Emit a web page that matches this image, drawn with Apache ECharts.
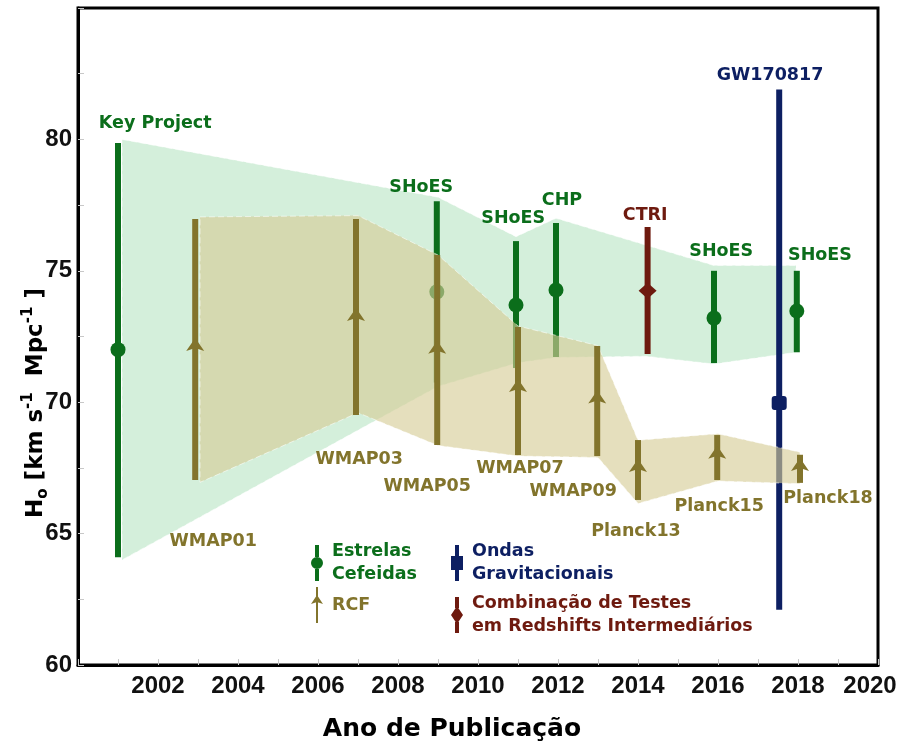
<!DOCTYPE html>
<html>
<head>
<meta charset="utf-8">
<script src="https://cdn.jsdelivr.net/npm/echarts@6/dist/echarts.min.js"></script>
<style>
  html, body { margin: 0; padding: 0; background: #fff; }
  #chart { width: 900px; height: 750px; }
</style>
</head>
<body>
<div id="chart"></div>
<script>
// Estrelas Cefeidas (ano, H0, limite inferior, limite superior)
var cefYears = [2001.0, 2008.97, 2010.95, 2011.95, 2015.9, 2017.97];
var cefH0 = [72.0, 74.2, 73.7, 74.27, 73.2, 73.47];
var cefLow = [64.1, 70.75, 71.3, 71.72, 71.49, 71.9];
var cefHigh = [79.86, 77.65, 76.13, 76.82, 75.0, 75.0];

// RCF
var cmbYears = [2002.93, 2006.95, 2008.98, 2011.0, 2012.98, 2014.0, 2015.98, 2018.05];
var cmbH0 = [72.1, 73.24, 72.0, 70.54, 70.1, 67.5, 68.0, 67.53];
var cmbLow = [67.04, 69.51, 68.37, 67.99, 67.95, 66.28, 67.04, 66.93];
var cmbHigh = [76.97, 76.97, 75.6, 72.86, 72.14, 68.56, 68.75, 68.0];

// Ondas gravitacionais / CTRI
var gwPoint = [2017.53, 69.97, 62.1, 81.9];
var ctriPoint = [2014.24, 74.24, 71.83, 76.67];

// faixas (bordas superior e inferior)
var cefBandUpper = [[2001.1, 80.0], [2009.0, 77.8], [2010.95, 76.3], [2011.95, 77.0], [2015.9, 75.2], [2017.95, 75.2]];
var cefBandLower = [[2001.1, 64.0], [2007.2, 69.1], [2009.0, 70.6], [2011.0, 71.5], [2011.95, 71.7], [2014.2, 71.75], [2015.9, 71.45], [2017.95, 71.9]];
var cmbBandUpper = [[2003.05, 77.05], [2007.0, 77.1], [2009.0, 75.6], [2011.0, 72.9], [2013.0, 72.15], [2014.0, 68.55], [2016.0, 68.8], [2018.05, 68.1]];
var cmbBandLower = [[2003.05, 66.95], [2007.0, 69.6], [2009.0, 68.35], [2011.0, 67.95], [2013.0, 67.9], [2014.0, 66.15], [2016.0, 67.0], [2018.05, 66.9]];

// rótulos
var labelNames = ['Key Project', 'WMAP01', 'SHoES', 'WMAP03', 'WMAP05', 'SHoES', 'CHP', 'WMAP07', 'WMAP09', 'CTRI', 'Planck13', 'SHoES', 'Planck15', 'GW170817', 'SHoES', 'Planck18'];
var labelX = [2001.93, 2003.38, 2008.58, 2007.03, 2008.73, 2010.88, 2012.1, 2011.05, 2012.38, 2014.18, 2013.95, 2016.08, 2016.03, 2017.3, 2018.55, 2018.75];
var labelY = [80.62, 64.72, 78.19, 67.84, 66.81, 77.01, 77.66, 67.46, 66.62, 77.12, 65.1, 75.75, 66.05, 82.45, 75.6, 66.35];
var labelGroup = ['cef', 'cmb', 'cef', 'cmb', 'cmb', 'cef', 'cef', 'cmb', 'cmb', 'ctri', 'cmb', 'cef', 'cmb', 'gw', 'cef', 'cmb'];

var xTicks = [2002, 2004, 2006, 2008, 2010, 2012, 2014, 2016, 2018, 2020];
var yTicks = [60, 65, 70, 75, 80];

var colors = { cef: '#0b6e1b', cmb: '#82742c', gw: '#0d1f62', ctri: '#6e1a0f' };
var font = 'DejaVu Sans';
var tickFont = 'Liberation Sans';

function toRows(xs, ys, lo, hi) {
    return xs.map(function (x, i) { return [x, ys[i], lo[i], hi[i]] })
}

function marker(kind, p, color) {
    var cx = p[0], cy = p[1]
    if (kind == 'circle') {
        return { type: 'circle', shape: { cx: cx, cy: cy, r: 7.5 }, style: { fill: color } }
    }
    if (kind == 'arrow') {
        return { type: 'polygon', shape: { points: [[cx, cy - 9], [cx + 9, cy + 4], [cx, cy + 1], [cx - 9, cy + 4]] }, style: { fill: color } }
    }
    if (kind == 'square') {
        return { type: 'rect', shape: { x: cx - 7.5, y: cy - 7, width: 15, height: 14, r: 3 }, style: { fill: color } }
    }
    return { type: 'polygon', shape: { points: [[cx, cy - 8], [cx + 9, cy], [cx, cy + 8], [cx - 9, cy]] }, style: { fill: color } }
}

function errorBar(kind) {
    return function (params, api) {
        var x = api.value(0)
        var top = api.coord([x, api.value(3)])
        var bot = api.coord([x, api.value(2)])
        var mid = api.coord([x, api.value(1)])
        var color = api.visual('color')
        return {
            type: 'group',
            children: [
                { type: 'rect', shape: { x: top[0] - 3, y: top[1], width: 6, height: bot[1] - top[1] }, style: { fill: color } },
                marker(kind, mid, color)
            ]
        }
    }
}

function band(fill) {
    return function (params, api) {
        if (params.dataIndexInside !== 0) return
        var pts = []
        for (var i = 0; i < params.dataInsideLength; i++) {
            pts.push(api.coord([api.value(0, i), api.value(1, i)]))
        }
        return {
            type: 'polygon',
            shape: { points: pts },
            style: { fill: fill, stroke: 'rgba(255,255,255,0.55)', lineWidth: 1, lineDash: [6, 3] }
        }
    }
}

var labelData = labelNames.map(function (n, i) {
    return {
        name: n,
        value: [labelX[i], labelY[i]],
        label: { color: colors[labelGroup[i]] }
    }
})

var iconCef = 'path://M4,0H8V12H4Z M6,12A6,6 0 1,1 6,24A6,6 0 1,1 6,12Z M4,24H8V36H4Z'
var iconCmb = 'path://M5,0H7V11H5Z M6,8L12,17L6,15L0,17Z M5,15H7V36H5Z'
var iconGw = 'path://M4,0H8V11H4Z M0,11H12V25H0Z M4,25H8V36H4Z'
var iconCtri = 'path://M4,0H8V11H4Z M6,9L12,18L6,27L0,18Z M4,25H8V36H4Z'

var legendText = { fontFamily: font, fontWeight: 'bold', fontSize: 17.5, lineHeight: 23, padding: [0, 0, 0, 4] }

var chart = echarts.init(document.getElementById('chart'))
var option = {
    backgroundColor: '#fff',
    animation: false,
    textStyle: { fontFamily: font },
    grid: {
        left: 78, right: 22, top: 8, bottom: 85, outerBoundsMode: 'none',
        show: true, borderColor: '#000', borderWidth: 3, backgroundColor: 'transparent'
    },
    legend: [
        {
            left: 311, top: 540, orient: 'vertical', padding: 0, itemGap: 1,
            itemWidth: 12, itemHeight: 36, selectedMode: false,
            textStyle: legendText,
            data: [
                { name: 'Estrelas\nCefeidas', icon: iconCef, textStyle: { color: colors.cef } },
                { name: 'RCF', icon: iconCmb, textStyle: { color: colors.cmb } }
            ]
        },
        {
            left: 451, top: 540, orient: 'vertical', padding: 0, itemGap: 6,
            itemWidth: 12, itemHeight: 36, selectedMode: false,
            textStyle: legendText,
            data: [
                { name: 'Ondas\nGravitacionais', icon: iconGw, textStyle: { color: colors.gw } },
                { name: 'Combinação de Testes\nem Redshifts Intermediários', icon: iconCtri, textStyle: { color: colors.ctri } }
            ]
        }
    ],
    xAxis: {
        type: 'value', min: 2000, max: 2020, interval: 2,
        axisLine: { show: true, lineStyle: { color: '#000', width: 3 } },
        axisTick: { show: true, inside: true, length: 6, lineStyle: { color: '#c8c8c8' } },
        minorTick: { show: true, splitNumber: 2, length: 6, lineStyle: { color: '#c8c8c8' } },
        splitLine: { show: false },
        axisLabel: {
            margin: 9, fontFamily: tickFont, fontWeight: 'bold', fontSize: 24, color: '#111',
            formatter: function (v) {
                if (xTicks.indexOf(v) < 0) return ''
                return v == 2020 ? '{last|' + v + '}' : String(v)
            },
            rich: {
                last: { fontFamily: tickFont, fontWeight: 'bold', fontSize: 24, color: '#111', padding: [0, 16, 0, 0] }
            }
        }
    },
    yAxis: {
        type: 'value', min: 60, max: 85, interval: 5,
        axisLine: { show: true, lineStyle: { color: '#000', width: 3 } },
        axisTick: { show: true, inside: true, length: 6, lineStyle: { color: '#c8c8c8' } },
        minorTick: { show: true, splitNumber: 2, length: 6, lineStyle: { color: '#c8c8c8' } },
        splitLine: { show: false },
        axisLabel: {
            margin: 6, fontFamily: tickFont, fontWeight: 'bold', fontSize: 24, color: '#111',
            formatter: function (v) { return yTicks.indexOf(v) >= 0 ? String(v) : '' }
        }
    },
    graphic: [
        {
            type: 'text', x: 36, y: 403, rotation: Math.PI / 2,
            style: {
                text: '{b|H}{sub|o}{b| [km s}{sup|-1}{b|  Mpc}{sup|-1}{b| ]}',
                align: 'center', verticalAlign: 'middle',
                rich: {
                    b: { fontFamily: font, fontWeight: 'bold', fontSize: 23, fill: '#000', lineHeight: 30 },
                    sub: { fontFamily: font, fontWeight: 'bold', fontSize: 15, fill: '#000', verticalAlign: 'bottom', lineHeight: 30 },
                    sup: { fontFamily: font, fontWeight: 'bold', fontSize: 15, fill: '#000', verticalAlign: 'top', lineHeight: 30 }
                }
            }
        },
        {
            type: 'text', x: 452, y: 729,
            style: { text: 'Ano de Publicação', fontFamily: font, fontWeight: 'bold', fontSize: 25, fill: '#000', align: 'center', verticalAlign: 'middle' }
        }
    ],
    series: [
        {
            name: 'faixa cefeidas', type: 'custom', z: 1,
            renderItem: band('rgba(60,180,90,0.22)'),
            data: cefBandUpper.concat(cefBandLower.slice().reverse())
        },
        {
            name: 'Estrelas\nCefeidas', type: 'custom', z: 2,
            itemStyle: { color: colors.cef },
            renderItem: errorBar('circle'),
            data: toRows(cefYears, cefH0, cefLow, cefHigh)
        },
        {
            name: 'Ondas\nGravitacionais', type: 'custom', z: 2,
            itemStyle: { color: colors.gw },
            renderItem: errorBar('square'),
            data: [gwPoint]
        },
        {
            name: 'Combinação de Testes\nem Redshifts Intermediários', type: 'custom', z: 2,
            itemStyle: { color: colors.ctri },
            renderItem: errorBar('diamond'),
            data: [ctriPoint]
        },
        {
            name: 'faixa rcf', type: 'custom', z: 3,
            renderItem: band('rgba(214,204,150,0.63)'),
            data: cmbBandUpper.concat(cmbBandLower.slice().reverse())
        },
        {
            name: 'RCF', type: 'custom', z: 4,
            itemStyle: { color: colors.cmb },
            renderItem: errorBar('arrow'),
            data: toRows(cmbYears, cmbH0, cmbLow, cmbHigh)
        },
        {
            name: 'rotulos', type: 'scatter', z: 5,
            symbolSize: 1, itemStyle: { color: 'rgba(0,0,0,0)', opacity: 1 },
            label: { show: true, position: 'inside', formatter: '{b}', fontFamily: font, fontWeight: 'bold', fontSize: 17.5 },
            data: labelData
        }
    ]
}
chart.setOption(option)
</script>
</body>
</html>
